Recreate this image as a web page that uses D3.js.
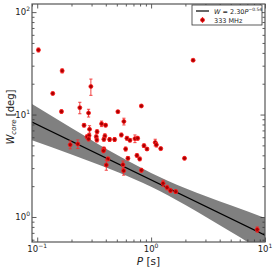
<!DOCTYPE html>
<html>
<head>
<meta charset="utf-8">
<script src="https://cdn.jsdelivr.net/npm/d3@7"></script>
<style>
  body { margin: 0; background: #fff; }
  svg { display: block; font-family: "DejaVu Sans", sans-serif; }
</style>
</head>
<body>
<div id="chart"></div>
<script>
// pulse period P [s] and core width W [deg] at 333 MHz
const periods = [0.1025, 0.1656, 0.1369, 0.1633, 0.296, 0.2366, 0.2823, 0.2577, 0.288, 0.3354,
  0.3673, 0.3985, 0.2739, 0.2851, 0.2823, 0.330, 0.334, 0.1949, 0.2272, 0.3849,
  0.3928, 0.3849, 0.4321, 0.4782, 0.382, 0.4175, 0.4042, 0.5657, 0.5738, 0.5974,
  0.626, 0.511, 0.577, 0.548, 0.6135, 0.652, 0.7214, 0.762, 0.866, 0.920,
  0.8214, 1.087, 1.113, 1.215, 0.751, 0.794, 0.8214, 1.273, 1.380, 1.479,
  1.646, 1.964, 2.338, 8.55];
const widths = [42.7, 26.7, 16.07, 10.7, 18.8, 11.68, 10.36, 7.86, 7.18, 6.81,
  8.13, 7.88, 6.08, 6.25, 5.78, 6.08, 5.65, 5.08, 5.16, 4.61,
  6.18, 5.74, 5.71, 5.71, 4.44, 3.69, 3.22, 3.24, 2.83, 4.61,
  3.74, 10.67, 8.56, 6.32, 5.87, 5.61, 5.82, 5.87, 4.97, 4.61,
  12.13, 5.34, 5.07, 4.65, 3.99, 3.69, 2.86, 2.13, 1.94, 1.81,
  1.77, 3.74, 33.9, 0.755];
const widthErrs = [1.8, 1.2, 0.5, 0.4, 3.4, 1.5, 0.9, 0.3, 0.6, 0.3,
  0.5, 0.3, 0.25, 0.3, 0.25, 0.25, 0.25, 0.45, 0.5, 0.2,
  0.3, 0.25, 0.25, 0.25, 0.2, 0.15, 0.36, 0.28, 0.27, 0.2,
  0.15, 0.3, 0.65, 0.25, 0.25, 0.2, 0.5, 0.25, 0.2, 0.15,
  0.3, 0.4, 0.25, 0.15, 0.15, 0.15, 0.12, 0.15, 0.1, 0.08,
  0.07, 0.12, 0.8, 0.045];

// fitted power law (legend) and its shaded uncertainty band
const fitAmp = 2.30;
const fitIndex = -0.54;
const bandP = [0.09, 0.2, 0.5, 1, 2, 5, 10];
const bandLow = [5.60, 4.08, 2.76, 1.97, 1.31, 0.717, 0.449];
const bandHigh = [12.7, 7.39, 4.04, 2.69, 1.91, 1.30, 0.98];

// tick labels
const xTicks = [0.1, 1, 10];
const xTickExp = ["\u22121", "0", "1"];
const yTicks = [1, 10, 100];
const yTickExp = ["0", "1", "2"];

const width = 276, height = 269;
const margin = {top: 4, right: 11, bottom: 27, left: 32};

const svg = d3.select("#chart")
  .append("svg")
    .attr("width", width)
    .attr("height", height);

const x = d3.scaleLog()
  .domain([0.09, 10])
  .range([margin.left, width - margin.right]);
const y = d3.scaleLog()
  .domain([0.57, 120])
  .range([height - margin.bottom, margin.top]);

svg.append("clipPath").attr("id", "clip")
  .append("rect")
    .attr("x", margin.left).attr("y", margin.top)
    .attr("width", x.range()[1] - margin.left)
    .attr("height", y.range()[0] - margin.top);

const plot = svg.append("g").attr("clip-path", "url(#clip)");

// band
const band = bandP.map((p, i) => ({p: p, lo: bandLow[i], hi: bandHigh[i]}));
plot.append("path")
  .datum(band)
  .attr("fill", "#808080")
  .attr("d", d3.area()
    .x(d => x(d.p))
    .y0(d => y(d.lo))
    .y1(d => y(d.hi))
    .curve(d3.curveMonotoneX));

// fit line
plot.append("line")
  .attr("x1", x(x.domain()[0])).attr("y1", y(fitAmp * Math.pow(x.domain()[0], fitIndex)))
  .attr("x2", x(x.domain()[1])).attr("y2", y(fitAmp * Math.pow(x.domain()[1], fitIndex)))
  .attr("stroke", "black")
  .attr("stroke-width", 1.2);

// points with error bars
const pts = periods.map((p, i) => ({p: p, w: widths[i], e: widthErrs[i]}));
const pt = plot.selectAll("g.pt")
  .data(pts)
  .join("g")
    .attr("class", "pt");
pt.append("line")
  .attr("x1", d => x(d.p)).attr("x2", d => x(d.p))
  .attr("y1", d => y(d.w - d.e)).attr("y2", d => y(d.w + d.e))
  .attr("stroke", "#f03030").attr("stroke-width", 0.9);
pt.selectAll("line.cap")
  .data(d => [d.w - d.e, d.w + d.e].map(v => ({p: d.p, v: v})))
  .join("line")
    .attr("class", "cap")
    .attr("x1", d => x(d.p) - 1.6).attr("x2", d => x(d.p) + 1.6)
    .attr("y1", d => y(d.v)).attr("y2", d => y(d.v))
    .attr("stroke", "#f03030").attr("stroke-width", 0.9);
pt.append("circle")
  .attr("cx", d => x(d.p))
  .attr("cy", d => y(d.w))
  .attr("r", 2)
  .attr("fill", "#a80000")
  .attr("stroke", "#ff1a1a")
  .attr("stroke-width", 0.8);

// ticks on all four sides, pointing inward
const isMajor = v => Math.abs(Math.log10(v) - Math.round(Math.log10(v))) < 1e-6;
const xMinor = x.ticks().filter(v => !isMajor(v));
const yMinor = y.ticks().filter(v => !isMajor(v));
const bottomY = y.range()[0], topY = y.range()[1];
const leftX = x.range()[0], rightX = x.range()[1];

function ticks(axis, vals, size, offset) {
  svg.append("g")
    .attr("transform", offset)
    .call(axis.tickValues(vals).tickSize(-size).tickFormat(""))
    .call(g => g.select(".domain").remove())
    .call(g => g.selectAll("line").attr("stroke", "#333").attr("stroke-width", 0.8));
}
ticks(d3.axisBottom(x), xTicks, 4.5, `translate(0,${bottomY})`);
ticks(d3.axisBottom(x), xMinor, 2.5, `translate(0,${bottomY})`);
ticks(d3.axisTop(x), xTicks, 4.5, `translate(0,${topY})`);
ticks(d3.axisTop(x), xMinor, 2.5, `translate(0,${topY})`);
ticks(d3.axisLeft(y), yTicks, 4.5, `translate(${leftX},0)`);
ticks(d3.axisLeft(y), yMinor, 2.5, `translate(${leftX},0)`);
ticks(d3.axisRight(y), yTicks, 4.5, `translate(${rightX},0)`);
ticks(d3.axisRight(y), yMinor, 2.5, `translate(${rightX},0)`);

// frame
svg.append("rect")
  .attr("x", leftX).attr("y", topY)
  .attr("width", rightX - leftX).attr("height", bottomY - topY)
  .attr("fill", "none")
  .attr("stroke", "#555")
  .attr("stroke-width", 1.2);

// tick labels
const xl = svg.selectAll("text.xt")
  .data(xTicks)
  .join("text")
    .attr("class", "xt")
    .attr("x", d => x(d))
    .attr("y", bottomY + 9.5)
    .attr("text-anchor", "middle")
    .attr("font-size", 8.5)
    .attr("fill", "#222");
xl.append("tspan").text("10");
xl.append("tspan").attr("dy", -4).attr("font-size", 6).text((d, i) => xTickExp[i]);

const yl = svg.selectAll("text.yt")
  .data(yTicks)
  .join("text")
    .attr("class", "yt")
    .attr("x", leftX - 2)
    .attr("y", d => y(d) + 3)
    .attr("text-anchor", "end")
    .attr("font-size", 8.5)
    .attr("fill", "#222");
yl.append("tspan").text("10");
yl.append("tspan").attr("dy", -4).attr("font-size", 6).text((d, i) => yTickExp[i]);

// axis labels
const xlab = svg.append("text")
  .attr("x", (leftX + rightX) / 2)
  .attr("y", 265)
  .attr("text-anchor", "middle")
  .attr("font-size", 10.5)
  .attr("fill", "#222");
xlab.append("tspan").attr("font-style", "italic").text("P");
xlab.append("tspan").text(" [s]");

const ylab = svg.append("text")
  .attr("transform", `translate(14,${(topY + bottomY) / 2 - 6}) rotate(-90)`)
  .attr("text-anchor", "middle")
  .attr("font-size", 10)
  .attr("fill", "#222");
ylab.append("tspan").attr("font-style", "italic").text("W");
ylab.append("tspan").attr("font-style", "italic").attr("font-size", 7).attr("dy", 2).text("core");
ylab.append("tspan").attr("dy", -2).text(" [deg]");

// legend
const leg = svg.append("g");
leg.append("rect")
  .attr("x", 192).attr("y", 5)
  .attr("width", 70).attr("height", 20)
  .attr("fill", "white")
  .attr("stroke", "#333")
  .attr("stroke-width", 0.8);
leg.append("line")
  .attr("x1", 196).attr("x2", 209).attr("y1", 11).attr("y2", 11)
  .attr("stroke", "black").attr("stroke-width", 1.2);
const lt = leg.append("text")
  .attr("x", 214).attr("y", 13.5)
  .attr("font-size", 6.5).attr("fill", "#222");
lt.append("tspan").attr("font-style", "italic").text("W");
lt.append("tspan").text(" = 2.30");
lt.append("tspan").attr("font-style", "italic").text("P");
lt.append("tspan").attr("dy", -3).attr("font-size", 4.5).text("\u22120.54");
leg.append("line")
  .attr("x1", 202.5).attr("x2", 202.5).attr("y1", 17).attr("y2", 23)
  .attr("stroke", "#f03030").attr("stroke-width", 0.9);
leg.append("circle")
  .attr("cx", 202.5).attr("cy", 20).attr("r", 2)
  .attr("fill", "#a80000").attr("stroke", "#ff1a1a").attr("stroke-width", 0.8);
leg.append("text")
  .attr("x", 214).attr("y", 22.5)
  .attr("font-size", 6.5).attr("fill", "#222")
  .text("333 MHz");
</script>
</body>
</html>
